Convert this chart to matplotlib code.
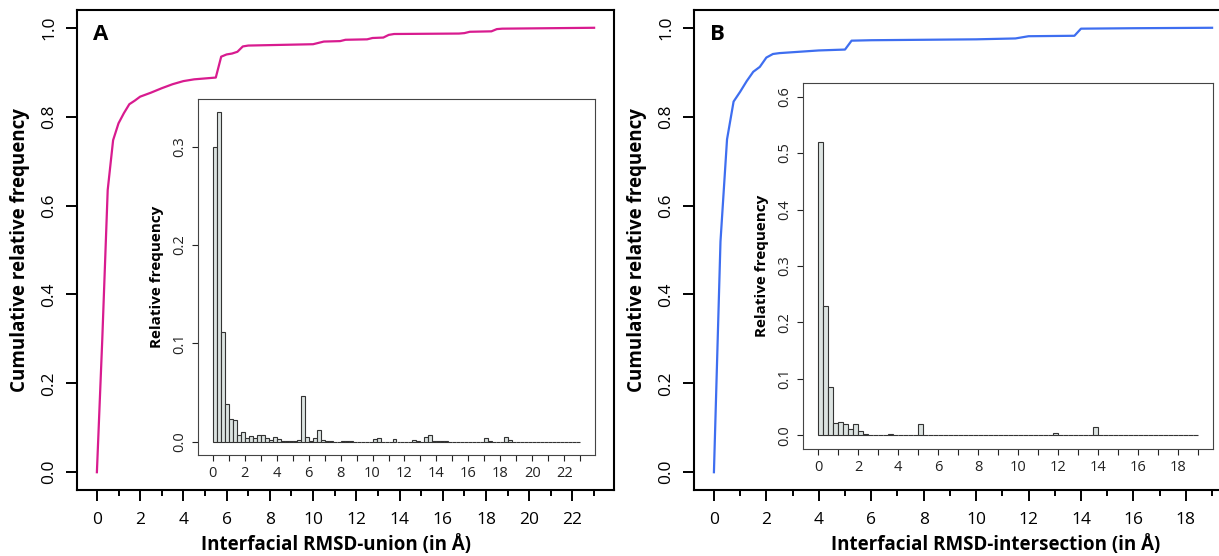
import numpy as np
import matplotlib.pyplot as plt

plt.rcParams['font.family'] = ['Open Sans', 'DejaVu Sans']

# cumulative curves (x in Angstrom, y = cumulative relative frequency)
union_x = [0, 0.25, 0.5, 0.75, 1.0, 1.25, 1.5, 1.75, 2.0, 2.5, 3.0, 3.5, 4.0, 4.5, 5.0, 5.5,
           5.75, 6.0, 6.25, 6.5, 6.75, 7.0, 8.0, 9.0, 10.0, 10.25, 10.5, 11.25, 11.5, 12.5,
           12.75, 13.25, 13.5, 13.75, 16.75, 17.0, 17.25, 18.25, 18.5, 18.75, 23.0]
union_cum = [0.0, 0.30, 0.635, 0.747, 0.785, 0.808, 0.828, 0.836, 0.845, 0.854, 0.864, 0.873,
             0.880, 0.884, 0.886, 0.888, 0.935, 0.940, 0.942, 0.946, 0.958, 0.960, 0.961,
             0.962, 0.963, 0.966, 0.969, 0.970, 0.973, 0.974, 0.977, 0.978, 0.984, 0.986,
             0.987, 0.988, 0.991, 0.992, 0.997, 0.998, 1.0]

inter_x = [0, 0.25, 0.5, 0.75, 1.0, 1.25, 1.5, 1.75, 2.0, 2.25, 2.5, 3.0, 3.5, 4.0, 5.0,
           5.25, 6.0, 8.0, 10.0, 11.5, 12.0, 13.75, 14.0, 16.0, 19.0]
inter_cum = [0.0, 0.519, 0.749, 0.834, 0.856, 0.880, 0.901, 0.912, 0.933, 0.941, 0.943,
             0.945, 0.947, 0.949, 0.951, 0.971, 0.972, 0.973, 0.974, 0.976, 0.981, 0.982,
             0.998, 0.999, 1.0]

# inset histograms, bins of 0.25 Angstrom starting at 0
bin_width = 0.25
union_freq = [0.300, 0.335, 0.112, 0.038, 0.023, 0.022, 0.007, 0.010, 0.004, 0.006,
              0.004, 0.007, 0.007, 0.004, 0.002, 0.005, 0.003, 0.0013, 0.001, 0.001,
              0.0005, 0.002, 0.047, 0.005, 0.001, 0.004, 0.012, 0.002, 0.001, 0.0005,
              0.0, 0.0, 0.0005, 0.001, 0.0005, 0.0, 0.0, 0.0, 0.0, 0.0,
              0.003, 0.004, 0.0, 0.0, 0.0, 0.003, 0.0, 0.0, 0.0, 0.0,
              0.002, 0.001, 0.0, 0.005, 0.007, 0.0005, 0.0005, 0.0005, 0.0005, 0.0,
              0.0, 0.0, 0.0, 0.0, 0.0, 0.0, 0.0, 0.0, 0.004, 0.001,
              0.0, 0.0, 0.0, 0.005, 0.002, 0.0003, 0.0003, 0.0003, 0.0003, 0.0003,
              0.0003, 0.0003, 0.0003, 0.0003, 0.0003, 0.0003, 0.0003, 0.0003, 0.0003, 0.0003,
              0.0003, 0.0003]
inter_freq = [0.519, 0.230, 0.085, 0.022, 0.024, 0.021, 0.011, 0.021, 0.008, 0.002,
              0.001, 0.001, 0.0005, 0.0005, 0.002, 0.001, 0.0, 0.0, 0.001, 0.001,
              0.0206, 0.0005, 0.0003, 0.0003, 0.0003, 0.0003, 0.0003, 0.0003, 0.0003, 0.0003,
              0.0003, 0.0003, 0.0003, 0.0003, 0.0003, 0.0003, 0.0003, 0.0003, 0.0003, 0.0003,
              0.0003, 0.0003, 0.0003, 0.0003, 0.0003, 0.001, 0.001, 0.0035, 0.0, 0.0,
              0.0, 0.0, 0.0, 0.0, 0.001, 0.0147, 0.0005, 0.0002, 0.0002, 0.0002,
              0.0002, 0.0002, 0.0002, 0.0002, 0.0002, 0.0002, 0.0002, 0.0002, 0.0002, 0.0002,
              0.0002, 0.0002, 0.0002, 0.0002, 0.0002, 0.0002]

W, H = 1219, 556
fig = plt.figure(figsize=(W / 100, H / 100), dpi=100)


def px_axes(l, t, r, b):
    # axes placed by pixel box (left, top, right, bottom)
    return fig.add_axes([l / W, 1 - b / H, (r - l) / W, (b - t) / H])


def style_main(ax, xmax_tick, xlim, xlabel, xlabel_pos, color, xs, ys, letter):
    ax.plot(xs, ys, color=color, lw=1.6)
    ax.set_xlim(*xlim)
    ax.set_ylim(-0.04, 1.04)
    ax.set_xticks(np.arange(0, xmax_tick + 1, 2))
    ax.set_xticks(np.arange(1, xmax_tick + 2, 2), minor=True)
    ax.set_yticks(np.arange(0, 1.01, 0.2))
    ax.set_yticklabels(['0.0', '0.2', '0.4', '0.6', '0.8', '1.0'])
    ax.tick_params(which='major', direction='out', length=8, width=1.4, labelsize=12.5, pad=6)
    ax.tick_params(axis='x', which='minor', direction='out', length=4.5, width=1.4)
    ax.tick_params(axis='x', pad=8)
    plt.setp(ax.get_yticklabels(), rotation=90, va='center')
    for s in ax.spines.values():
        s.set_linewidth(1.5)
    ax.set_xlabel(xlabel, fontsize=13.5, fontweight='bold')
    ax.xaxis.set_label_coords(xlabel_pos, -0.093)
    ax.set_ylabel('Cumulative relative frequency', fontsize=13.5, fontweight='bold', labelpad=8)
    ax.text(0.03, 0.948, letter, transform=ax.transAxes, fontsize=16, fontweight='bold',
            va='center', ha='left')


def style_inset(ax, freq, xmax_tick, xlim, ylim, yticks):
    x = np.arange(len(freq)) * bin_width
    ax.bar(x, freq, width=bin_width, align='edge', color='#dce3e1', edgecolor='#333333',
           linewidth=0.8)
    ax.set_xlim(*xlim)
    ax.set_ylim(*ylim)
    ax.set_xticks(np.arange(0, xmax_tick + 1, 2))
    ax.set_xticks(np.arange(1, xmax_tick + 2, 2), minor=True)
    ax.set_yticks(yticks)
    ax.set_yticklabels(['%.1f' % v for v in yticks])
    ax.tick_params(which='both', direction='out', length=4, width=0.8, labelsize=10.5,
                   colors='#222222', pad=4)
    plt.setp(ax.get_yticklabels(), rotation=90, va='center')
    for s in ax.spines.values():
        s.set_linewidth(0.8)
        s.set_color('#444444')
    ax.set_ylabel('Relative frequency', fontsize=11, fontweight='bold', labelpad=6)


axA = px_axes(77, 10, 614, 490)
axB = px_axes(694, 10, 1232, 490)
insA = px_axes(198, 99, 595, 455)
insB = px_axes(803, 83, 1213, 449)

style_main(axA, 22, (-0.92, 23.92), 'Interfacial RMSD-union (in Å)', 0.483, '#d81b8f',
           union_x, union_cum, 'A')
style_main(axB, 18, (-0.76, 19.76), 'Interfacial RMSD-intersection (in Å)', 0.561, '#3e6ef0',
           inter_x, inter_cum, 'B')
style_inset(insA, union_freq, 22, (-0.92, 23.92), (-0.0134, 0.3484), [0.0, 0.1, 0.2, 0.3])
style_inset(insB, inter_freq, 18, (-0.76, 19.76), (-0.024, 0.624),
            [0.0, 0.1, 0.2, 0.3, 0.4, 0.5, 0.6])

fig.savefig('out.png', dpi=100)
